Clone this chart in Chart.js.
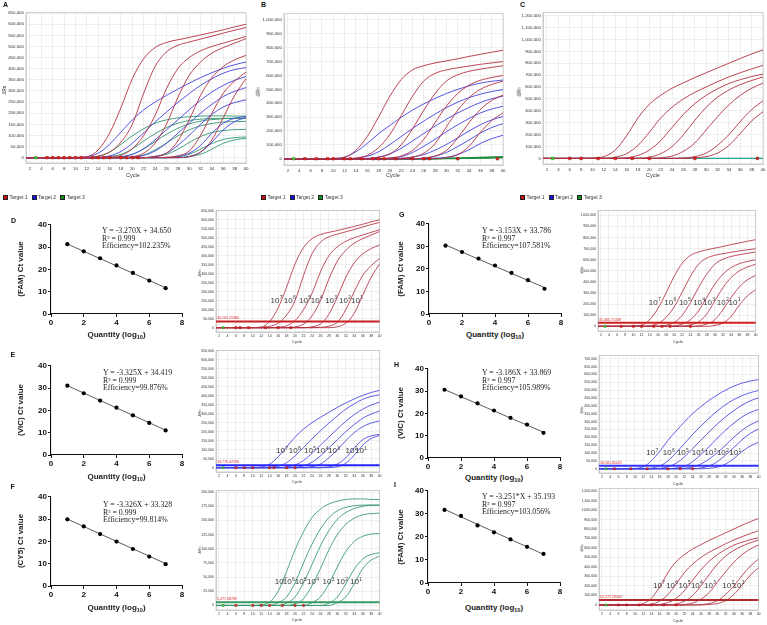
<!DOCTYPE html>
<html>
<head>
<meta charset="utf-8">
<title>qPCR amplification and standard curves</title>
<script src="https://cdn.jsdelivr.net/npm/chart.js@4.4.1/dist/chart.umd.min.js"></script>
<style>
  body { margin: 0; background: #fff; }
  #page { position: relative; width: 767px; height: 625px; overflow: hidden; font-family: Arial, "Liberation Sans", sans-serif; color: #222; }
  #page canvas { position: absolute; }
  .lbl { position: absolute; white-space: nowrap; line-height: 1; }
  .letter { font-weight: bold; font-size: 7px; color: #111; }
  .cyc { font-size: 4px; color: #333; transform: translate(-50%, -50%); }
  .cyc.big { font-size: 5.5px; }
  .drn { font-size: 3.6px; color: #333; transform: translate(-50%, -50%) rotate(-90deg); }
  .drn.big { font-size: 4.5px; }
  .legend { position: absolute; font-size: 5px; color: #333; display: flex; align-items: center; white-space: nowrap; line-height: 1; }
  .legend i { display: inline-block; width: 3px; height: 3px; margin-right: 1.5px; border: 0.5px solid #222; }
  .legend span { margin-right: 4px; }
  .eq { font-family: "Liberation Serif", "Times New Roman", serif; font-size: 7.8px; line-height: 7.6px; color: #222; }
  .ytitle { font-weight: bold; font-size: 8px; transform: translate(-50%, -50%) rotate(-90deg); }
  .xtitle { font-weight: bold; font-size: 8px; transform: translate(-50%, -50%); }
  .xtitle sub { font-size: 5.5px; vertical-align: -1.5px; line-height: 0; }
</style>
</head>
<body>
<div id="page"></div>
<script>
// ---- data (ΔRn values in thousands, one value per cycle below) ----
const cycles = [1, 2, 4, 6, 8, 10, 12, 14, 16, 18, 20, 22, 24, 26, 28, 30, 32, 34, 36, 38, 40];
const cycleTicks = [2, 4, 6, 8, 10, 12, 14, 16, 18, 20, 22, 24, 26, 28, 30, 32, 34, 36, 38, 40];

// target 1 (FAM), first assay: panel A red and D
const famA = [
  [0,0,0,0,0,1,4,35,110,225,355,445,495,518,530,540,552,563,575,588,600],
  [0,0,0,0,0,0,0,7,25,70,150,290,410,475,505,520,533,546,560,573,585],
  [0,0,0,0,0,0,0,0,3,10,40,100,190,310,400,450,480,500,515,530,545],
  [0,0,0,0,0,0,0,0,0,0,4,20,65,150,270,370,430,470,495,515,535],
  [0,0,0,0,0,0,0,0,0,0,0,0,5,20,75,170,280,360,410,440,460],
  [0,0,0,0,0,0,0,0,0,0,0,0,0,2,8,30,100,200,290,345,385],
  [0,0,0,0,0,0,0,0,0,0,0,0,0,0,0,5,25,80,180,280,355]
];
// target 2 (VIC): panel A blue and E
const vicA = [
  [0,0,0,0,0,1,4,20,60,115,170,215,250,280,308,335,360,382,402,418,430],
  [0,0,0,0,0,0,0,2,8,28,65,112,160,205,248,288,325,355,380,396,405],
  [0,0,0,0,0,0,0,0,0,3,15,40,80,125,170,215,258,295,325,348,365],
  [0,0,0,0,0,0,0,0,0,0,2,10,30,65,110,155,200,240,275,298,315],
  [0,0,0,0,0,0,0,0,0,0,0,0,6,20,55,100,150,195,228,248,260],
  [0,0,0,0,0,0,0,0,0,0,0,0,0,0,5,20,55,110,155,177,185],
  [0,0,0,0,0,0,0,0,0,0,0,0,0,0,0,5,25,70,125,162,180]
];
// target 3 (CY5): panel A green and F
const cy5A = [
  [0,0,0,0,0,0,1,6,25,60,98,130,155,170,179,184,187,188,188,187,187],
  [0,0,0,0,0,0,0,0,5,15,40,75,108,135,155,167,173,176,177,177,177],
  [0,0,0,0,0,0,0,0,0,4,15,40,72,105,132,152,164,171,175,177,177],
  [0,0,0,0,0,0,0,0,0,0,3,12,35,65,98,125,143,154,160,162,163],
  [0,0,0,0,0,0,0,0,0,0,0,0,5,15,38,68,95,113,122,126,127],
  [0,0,0,0,0,0,0,0,0,0,0,0,0,0,4,15,38,64,82,90,93],
  [0,0,0,0,0,0,0,0,0,0,0,0,0,0,0,5,15,38,65,80,87]
];
// second assay: panel B red and G
const famB = [
  [0,0,0,0,0,2,10,60,160,300,450,570,640,670,690,705,720,737,752,767,781],
  [0,0,0,0,0,0,0,5,25,80,175,310,450,560,615,640,655,668,680,690,700],
  [0,0,0,0,0,0,0,0,0,10,35,100,215,350,470,560,605,630,645,658,670],
  [0,0,0,0,0,0,0,0,0,0,5,20,60,140,260,380,470,530,565,585,600],
  [0,0,0,0,0,0,0,0,0,0,0,3,12,40,110,230,350,440,500,535,559],
  [0,0,0,0,0,0,0,0,0,0,0,0,0,5,20,60,150,260,355,420,459],
  [0,0,0,0,0,0,0,0,0,0,0,0,0,0,0,8,30,90,190,275,330]
];
// panel B blue and H
const vicB = [
  [0,0,0,0,0,2,12,50,110,180,240,298,350,395,435,470,500,525,545,558,567],
  [0,0,0,0,0,0,0,4,18,50,102,160,218,272,322,368,408,440,465,484,498],
  [0,0,0,0,0,0,0,0,3,12,35,75,128,182,235,285,330,370,405,432,451],
  [0,0,0,0,0,0,0,0,0,0,5,15,45,90,140,195,245,290,330,358,378],
  [0,0,0,0,0,0,0,0,0,0,0,3,12,30,62,103,150,200,245,280,304],
  [0,0,0,0,0,0,0,0,0,0,0,0,0,5,18,45,88,135,185,225,253],
  [0,0,0,0,0,0,0,0,0,0,0,0,0,0,3,10,30,65,110,145,169]
];
// panel B green (no amplification)
const cy5B = [
  [0,0,0,0,0,0,0,0,0,0,0,0,0,1,2,3,5,7,9,12,15],
  [0,0,0,0,0,0,0,0,0,0,0,0,0,0,1,2,3,5,7,9,11],
  [0,0,0,0,0,0,0,0,0,0,0,0,0,0,0,1,2,3,4,6,8]
];
// third assay: panel C red and I
const famC = [
  [0,0,0,0,0,3,15,70,190,340,455,530,590,635,680,720,760,800,840,878,912],
  [0,0,0,0,0,0,0,10,40,110,220,340,430,500,555,600,645,685,720,752,782],
  [0,0,0,0,0,0,0,0,5,25,70,150,260,370,460,530,585,630,662,688,709],
  [0,0,0,0,0,0,0,0,0,0,10,40,100,200,320,430,515,575,620,655,684],
  [0,0,0,0,0,0,0,0,0,0,0,5,20,60,130,240,350,450,530,590,632],
  [0,0,0,0,0,0,0,0,0,0,0,0,0,4,15,45,110,200,310,410,484],
  [0,0,0,0,0,0,0,0,0,0,0,0,0,0,5,15,45,110,210,315,393]
];
const flatC = [[0,0,0,0,0,0,0,0,0,0,0,0,0,0,0,0,0,0,0,0,0]];

// baseline markers (cycle numbers)
const marksA = [5, 6, 7, 8, 9, 10, 11, 13, 14, 15, 16, 18, 19, 20, 21];
const marksB = [5, 7, 9, 10, 12, 13, 15, 17, 18, 19, 21, 24, 26, 27, 32, 39];
const marksC = [6, 8, 11, 14, 17, 20, 28, 39];
const marksD = [6, 7, 9, 13, 16, 19];
const marksE = [6, 8, 10, 14, 15, 18, 20];
const marksF = [6, 10, 12, 14, 17, 20, 22];
const marksG = [7, 10, 12, 15, 17, 19, 24];
const marksH = [5, 9, 13, 18, 21, 24];
const marksI = [6, 8, 11, 14, 17, 20];
const startMark = [3];

// thresholds D..I
const thresholds = [34105.2538, 13776.47296, 5477.08769, 31465.71438, 18561.85025, 52277.29345];
const exponents = [7, 6, 5, 4, 3, 2, 1];

// y tick labels
const ticks650k = [0, 50000, 100000, 150000, 200000, 250000, 300000, 350000, 400000, 450000, 500000, 550000, 600000, 650000];
const ticks700k = [0, 50000, 100000, 150000, 200000, 250000, 300000, 350000, 400000, 450000, 500000, 550000, 600000, 650000, 700000];
const ticks1M = [0, 100000, 200000, 300000, 400000, 500000, 600000, 700000, 800000, 900000, 1000000];
const ticks1200k = [0, 100000, 200000, 300000, 400000, 500000, 600000, 700000, 800000, 900000, 1000000, 1100000, 1200000];
const ticks200k = [0, 25000, 50000, 75000, 100000, 125000, 150000, 175000, 200000];

// standard curves: log10 quantity vs Ct
const logQty = [1, 2, 3, 4, 5, 6, 7];
const ctD = [31.3, 28.1, 25.0, 21.8, 18.4, 15.0, 11.6];
const ctE = [31.1, 27.7, 24.4, 21.2, 17.8, 14.4, 11.0];
const ctF = [29.9, 26.7, 23.3, 19.9, 16.6, 13.2, 9.8];
const ctG = [30.3, 27.5, 24.6, 21.5, 18.2, 15.0, 11.2];
const ctH = [30.6, 27.6, 24.5, 21.3, 18.0, 15.0, 11.3];
const ctI = [31.7, 29.1, 25.0, 22.0, 18.9, 15.7, 12.6];
const fitD = [-3.270, 34.650], fitE = [-3.325, 34.419], fitF = [-3.326, 33.328];
const fitG = [-3.153, 33.786], fitH = [-3.186, 33.869], fitI = [-3.251, 35.193];
const eqD = ['Y = -3.270X + 34.650', 'R² = 0.999', 'Efficiency=102.235%'];
const eqE = ['Y = -3.325X + 34.419', 'R² = 0.999', 'Efficiency=99.876%'];
const eqF = ['Y = -3.326X + 33.328', 'R² = 0.999', 'Efficiency=99.814%'];
const eqG = ['Y = -3.153X + 33.786', 'R² = 0.997', 'Efficiency=107.581%'];
const eqH = ['Y = -3.186X + 33.869', 'R² = 0.997', 'Efficiency=105.989%'];
const eqI = ['Y = -3.251*X + 35.193', 'R² = 0.997', 'Efficiency=103.056%'];
const ctTicks = [0, 10, 20, 30, 40];
const qtyTicks = [0, 2, 4, 6, 8];

// ---- drawing ----
const page = document.getElementById('page');
const RED = 'rgb(180,48,66)', BLUE = 'rgb(66,66,222)', GREEN = 'rgb(48,150,110)';

function label(x, y, html, cls) {
  const d = document.createElement('div');
  d.className = 'lbl ' + cls;
  d.style.left = x + 'px';
  d.style.top = y + 'px';
  d.innerHTML = html;
  page.appendChild(d);
  return d;
}

function makeCanvas(area, pad) {
  const [l, t, r, b] = area.map(Math.round);
  const cv = document.createElement('canvas');
  const w = r - l + pad.y + pad.r, h = b - t + pad.t + pad.x;
  Object.assign(cv.style, { left: (l - pad.y) + 'px', top: (t - pad.t) + 'px', width: w + 'px', height: h + 'px' });
  cv.width = w; cv.height = h;
  page.appendChild(cv);
  return cv;
}

const framePlugin = {
  id: 'frame',
  beforeDatasetsDraw(chart) {
    const { ctx, chartArea: a } = chart;
    ctx.save();
    ctx.strokeStyle = '#c4c4c4';
    ctx.lineWidth = 0.8;
    ctx.strokeRect(a.left, a.top, a.right - a.left, a.bottom - a.top);
    ctx.restore();
  }
};

const thresholdPlugin = {
  id: 'thr',
  afterDatasetsDraw(chart, args, o) {
    if (o.value == null) return;
    const { ctx, chartArea: a, scales } = chart;
    const y = scales.y.getPixelForValue(o.value);
    ctx.save();
    ctx.strokeStyle = o.color;
    ctx.lineWidth = 2;
    ctx.beginPath(); ctx.moveTo(a.left, y); ctx.lineTo(a.right, y); ctx.stroke();
    ctx.fillStyle = '#e02828';
    ctx.font = '3.6px Arial';
    ctx.textBaseline = 'bottom';
    ctx.fillText(o.value.toLocaleString('en-US', { minimumFractionDigits: 5, maximumFractionDigits: 5 }), a.left + 1, y - 1.3);
    ctx.restore();
  }
};

const powerPlugin = {
  id: 'pow',
  afterDatasetsDraw(chart, args, o) {
    if (!o.at) return;
    const { ctx, scales } = chart;
    const big = '8px "Liberation Sans Narrow", Arial', small = '5px "Liberation Sans Narrow", Arial';
    ctx.save();
    ctx.fillStyle = '#3a3a3a';
    ctx.textBaseline = 'middle';
    o.at.forEach((c, i) => {
      const x = scales.x.getPixelForValue(c), y = scales.y.getPixelForValue(o.y);
      const exp = String(exponents[i]);
      ctx.font = big;
      const w1 = ctx.measureText('10').width;
      ctx.font = small;
      const w2 = ctx.measureText(exp).width;
      const x0 = x - (w1 + w2) / 2;
      ctx.font = big;
      ctx.fillText('10', x0, y);
      ctx.font = small;
      ctx.fillText(exp, x0 + w1 + 0.3, y - 3);
    });
    ctx.restore();
  }
};

function markerSet(list, fill, stroke, r) {
  return {
    type: 'scatter', data: list.map(c => ({ x: c, y: 0 })),
    pointStyle: 'rect', pointRadius: r, backgroundColor: fill, borderColor: stroke, borderWidth: 0.4
  };
}

function ampChart(p) {
  const big = !!p.big;
  const pad = big ? { y: 26, x: 10, t: 4, r: 5 } : { y: 22, x: 8, t: 4, r: 4 };
  const fs = big ? 4.4 : 3.5;
  const datasets = [
    markerSet(p.marks, '#e02424', '#8a1010', big ? 1.9 : 1.5),
    markerSet(startMark, '#3ad43a', '#1a801a', big ? 1.9 : 1.5)
  ];
  p.groups.forEach(([curves, color, width]) => curves.forEach(vals => datasets.push({
    type: 'line',
    data: cycles.map((c, i) => ({ x: c, y: vals[i] * 1000 })),
    borderColor: color, borderWidth: width || (big ? 0.9 : 0.85),
    pointRadius: 0, fill: false, cubicInterpolationMode: 'monotone'
  })));
  const grid = { color: '#e4e4e4', lineWidth: 0.6, drawTicks: false };
  new Chart(makeCanvas(p.area, pad), {
    type: 'line',
    data: { datasets },
    options: {
      responsive: false, maintainAspectRatio: false, animation: false, events: [],
      layout: { padding: { top: pad.t, right: pad.r, left: 0, bottom: 0 } },
      plugins: {
        legend: { display: false }, tooltip: { enabled: false },
        thr: { value: p.thr, color: p.thrColor },
        pow: { at: p.powAt, y: p.powY }
      },
      scales: {
        x: {
          type: 'linear', min: 1.3, max: 40,
          afterBuildTicks: s => { s.ticks = cycleTicks.map(v => ({ value: v })); },
          afterFit: s => { s.height = pad.x; },
          ticks: { font: { size: fs }, color: '#333', padding: big ? 3.5 : 2.2, maxRotation: 0, autoSkip: false },
          grid, border: { color: '#c4c4c4', width: 0.8 }
        },
        y: {
          type: 'linear', min: p.y[0], max: p.y[1],
          afterBuildTicks: s => { s.ticks = p.yTicks.map(v => ({ value: v })); },
          afterFit: s => { s.width = pad.y; },
          ticks: { font: { size: fs }, color: '#333', padding: 2, autoSkip: false, callback: v => v.toLocaleString('en-US') },
          grid, border: { color: '#c4c4c4', width: 0.8 }
        }
      }
    },
    plugins: [framePlugin, thresholdPlugin, powerPlugin]
  });
  label(p.cycle[0], p.cycle[1], 'Cycle', big ? 'cyc big' : 'cyc');
  label(p.drn[0], p.drn[1], 'ΔRn', big ? 'drn big' : 'drn');
}

function stdChart(p) {
  const pad = { y: 20, x: 14, t: 5, r: 6 };
  const axis = { color: '#111', width: 1.1 };
  const grid = { drawOnChartArea: false, drawTicks: true, tickLength: 3, color: '#111', lineWidth: 1 };
  const font = { size: 8, weight: 'bold', family: 'Arial, "Liberation Sans", sans-serif' };
  const ends = [logQty[0], logQty[logQty.length - 1]];
  new Chart(makeCanvas(p.area, pad), {
    type: 'scatter',
    data: {
      datasets: [
        { data: logQty.map((q, i) => ({ x: q, y: p.ct[i] })), pointRadius: 2.1, backgroundColor: '#000', borderWidth: 0 },
        { type: 'line', data: ends.map(q => ({ x: q, y: p.fit[0] * q + p.fit[1] })), borderColor: '#333', borderWidth: 0.8, pointRadius: 0 }
      ]
    },
    options: {
      responsive: false, maintainAspectRatio: false, animation: false, events: [],
      layout: { padding: { top: pad.t, right: pad.r, left: 0, bottom: 0 } },
      plugins: { legend: { display: false }, tooltip: { enabled: false } },
      scales: {
        x: {
          type: 'linear', min: 0, max: 8,
          afterBuildTicks: s => { s.ticks = qtyTicks.map(v => ({ value: v })); },
          afterFit: s => { s.height = pad.x; },
          ticks: { font, color: '#111', padding: 1, maxRotation: 0 },
          grid, border: axis
        },
        y: {
          type: 'linear', min: 0, max: 40,
          afterBuildTicks: s => { s.ticks = ctTicks.map(v => ({ value: v })); },
          afterFit: s => { s.width = pad.y; },
          ticks: { font, color: '#111', padding: 1 },
          grid, border: axis
        }
      }
    }
  });
  const [l, t, r, b] = p.area;
  label(p.letterAt[0], p.letterAt[1], p.letter, 'letter');
  label(p.ytx, (t + b) / 2, p.dye + ' Ct value', 'ytitle');
  label((l + r) / 2, p.xty, 'Quantity (log<sub>10</sub>)', 'xtitle');
  label(p.eqAt[0], p.eqAt[1], p.eq.join('<br>'), 'eq');
}

// top row
ampChart({ big: true, area: [26, 12.3, 247, 163.3], y: [-24000, 652000], yTicks: ticks650k,
  groups: [[famA, RED], [vicA, BLUE], [cy5A, GREEN]], marks: marksA, cycle: [133, 176], drn: [5, 90] });
ampChart({ big: true, area: [284, 12.7, 504, 165], y: [-45000, 1045000], yTicks: ticks1M,
  groups: [[famB, RED], [vicB, BLUE], [cy5B, 'rgb(30,140,60)', 1.3]], marks: marksB, cycle: [393, 176], drn: [259, 92] });
ampChart({ big: true, area: [543, 11.7, 764, 164.3], y: [-47000, 1225000], yTicks: ticks1200k,
  groups: [[famC, RED], [flatC, 'rgb(40,170,150)', 1.3], [flatC, BLUE, 1]], marks: marksC, cycle: [653, 176], drn: [520, 92] });

[['A', 3, 1], ['B', 261, 1], ['C', 520, 1]].forEach(([t, x, y]) => label(x, y, t, 'letter'));
[3, 261, 520].forEach(x => {
  const d = document.createElement('div');
  d.className = 'legend';
  d.style.left = x + 'px'; d.style.top = '195px';
  d.innerHTML = '<i style="background:#c81010"></i><span>Target 1</span>' +
                '<i style="background:#1010f0"></i><span>Target 2</span>' +
                '<i style="background:#10901e"></i><span>Target 3</span>';
  page.appendChild(d);
});

// standard curves
stdChart({ letter: 'D', letterAt: [11, 217], area: [51, 224, 182, 314], ct: ctD, fit: fitD, dye: '(FAM)', ytx: 21, xty: 335, eq: eqD, eqAt: [102, 227] });
stdChart({ letter: 'E', letterAt: [10.5, 351], area: [51, 365, 182, 455], ct: ctE, fit: fitE, dye: '(VIC)', ytx: 21, xty: 477, eq: eqE, eqAt: [103, 369] });
stdChart({ letter: 'F', letterAt: [10.5, 483], area: [51, 496, 182, 586], ct: ctF, fit: fitF, dye: '(CY5)', ytx: 21, xty: 608, eq: eqF, eqAt: [103, 501] });
stdChart({ letter: 'G', letterAt: [399, 211], area: [429, 223, 561, 314], ct: ctG, fit: fitG, dye: '(FAM)', ytx: 401, xty: 335, eq: eqG, eqAt: [482, 227] });
stdChart({ letter: 'H', letterAt: [394, 361], area: [428, 368, 560, 458], ct: ctH, fit: fitH, dye: '(VIC)', ytx: 401, xty: 478, eq: eqH, eqAt: [482, 369] });
stdChart({ letter: 'I', letterAt: [394, 481], area: [428, 490, 560, 583], ct: ctI, fit: fitI, dye: '(FAM)', ytx: 401, xty: 608, eq: eqI, eqAt: [482, 493] });

// amplification plots next to the standard curves
ampChart({ area: [216, 210, 379.5, 331.7], y: [-24000, 652000], yTicks: ticks650k, groups: [[famA, RED]], marks: marksD,
  thr: thresholds[0], thrColor: '#c81e1e', powAt: [15.6, 18.7, 22.3, 25.1, 28.5, 31.8, 34.6], powY: 150000, cycle: [297, 342], drn: [201, 273] });
ampChart({ area: [216, 350, 380, 471.7], y: [-24000, 652000], yTicks: ticks650k, groups: [[vicA, BLUE]], marks: marksE,
  thr: thresholds[1], thrColor: '#2424ff', powAt: [16.9, 19.9, 23.5, 26.4, 29.2, 33.3, 35.6], powY: 92000, cycle: [297, 482], drn: [201, 413] });
ampChart({ area: [216, 490, 380, 610], y: [-8000, 203000], yTicks: ticks200k, groups: [[cy5A, GREEN]], marks: marksF,
  thr: thresholds[2], thrColor: '#3a9a62', powAt: [16.6, 18.5, 21.3, 24.2, 27.9, 31.1, 34.4], powY: 41000, cycle: [297, 620], drn: [201, 550] });
ampChart({ area: [598.3, 210, 755.7, 330.7], y: [-42000, 1045000], yTicks: ticks1M, groups: [[famB, RED]], marks: marksG,
  thr: thresholds[3], thrColor: '#d02020', powAt: [15.2, 19.0, 22.6, 26.1, 28.5, 31.9, 34.8], powY: 210000, cycle: [678, 342], drn: [583, 270] });
ampChart({ area: [599, 355, 759, 473.3], y: [-27000, 721000], yTicks: ticks700k, groups: [[vicB, BLUE]], marks: marksH,
  thr: thresholds[4], thrColor: '#3030ff', powAt: [14.2, 18.2, 21.6, 25.2, 28.3, 31.3, 34.3], powY: 99000, cycle: [678, 484], drn: [583, 410] });
ampChart({ area: [599, 488.3, 759, 610], y: [-53000, 1228000], yTicks: ticks1200k, groups: [[famC, RED]], marks: marksI,
  thr: thresholds[5], thrColor: '#b02c2c', powAt: [15.8, 19.0, 22.0, 25.0, 28.2, 32.6, 35.1], powY: 204000, cycle: [678, 621], drn: [583, 548] });
</script>
</body>
</html>
